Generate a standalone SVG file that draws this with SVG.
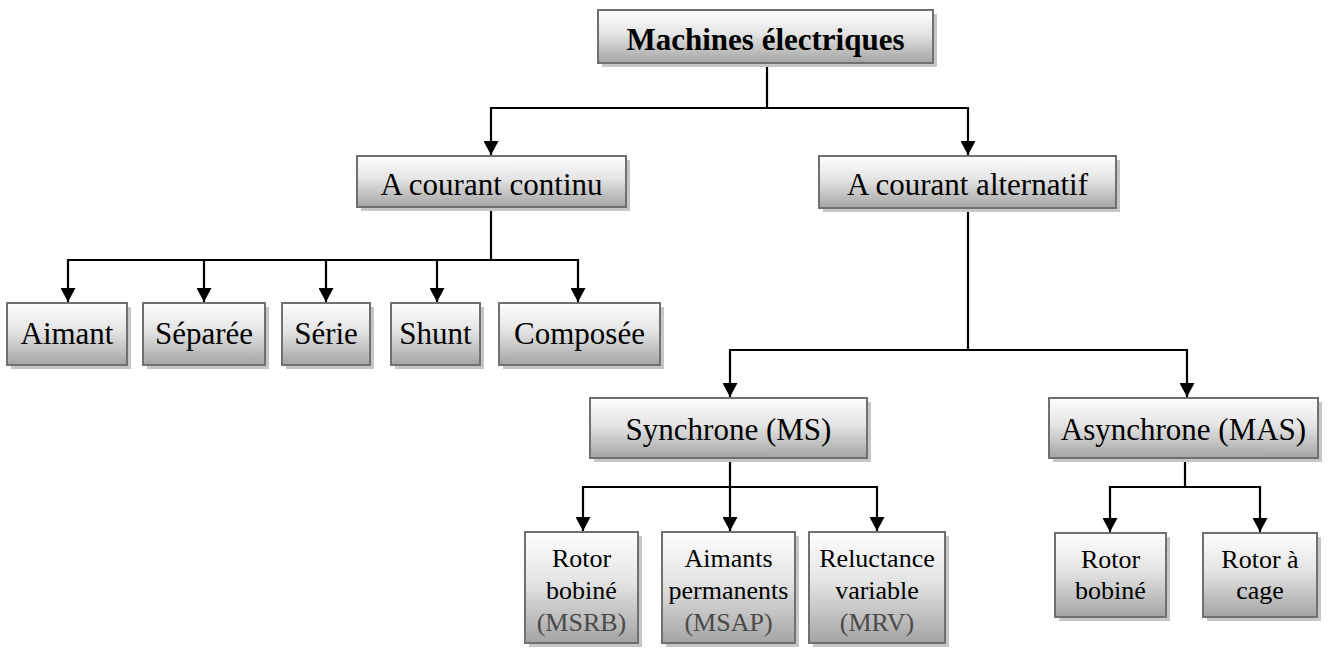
<svg xmlns="http://www.w3.org/2000/svg" width="1330" height="650" viewBox="0 0 1330 650">
<defs>
<linearGradient id="g" x1="0" y1="0" x2="0" y2="1">
<stop offset="0" stop-color="#fefefe"/>
<stop offset="0.45" stop-color="#e4e4e4"/>
<stop offset="1" stop-color="#a4a4a4"/>
</linearGradient>
<marker id="ah" markerUnits="userSpaceOnUse" markerWidth="15" markerHeight="15" refX="14" refY="7.5" orient="auto" viewBox="0 0 15 15">
<path d="M0,0 L14,7.5 L0,15 Z" fill="#000"/>
</marker>
</defs>
<style>
.sh{fill:#c6c6c6;}
.bx{fill:url(#g);stroke:#707070;stroke-width:2;}
.t{font-size:31px;}
.b{font-weight:bold;}
.s{font-size:26px;}
.g{fill:#4a4a4a;}
.c{fill:none;stroke:#000;stroke-width:2.2;}
.a{marker-end:url(#ah);}
</style>
<g id="connectors">
<path class="c" d="M767,63 V108"/>
<path class="c a" d="M767,108 H491 V155"/>
<path class="c a" d="M767,108 H968 V155"/>
<path class="c" d="M491,207 V260"/>
<path class="c a" d="M491,260 H68 V302"/>
<path class="c a" d="M491,260 H578 V302"/>
<path class="c a" d="M204,260 V302"/>
<path class="c a" d="M326,260 V302"/>
<path class="c a" d="M437,260 V302"/>
<path class="c" d="M968,208 V350"/>
<path class="c a" d="M968,350 H730 V397"/>
<path class="c a" d="M968,350 H1187 V397"/>
<path class="c" d="M730,458 V487"/>
<path class="c a" d="M730,487 H583 V531"/>
<path class="c a" d="M730,487 H877 V531"/>
<path class="c a" d="M730,487 V531"/>
<path class="c" d="M1185,458 V487"/>
<path class="c a" d="M1185,487 H1110 V532"/>
<path class="c a" d="M1185,487 H1260 V532"/>
</g>
<g font-family="'Liberation Serif', 'Times New Roman', Times, Tinos, 'Nimbus Roman', 'Noto Serif', 'DejaVu Serif', FreeSerif, serif" text-anchor="middle" fill="#000">
<g id="root">
<rect class="sh" x="602" y="14" width="335" height="53"/>
<rect class="bx" x="598" y="10" width="335" height="53"/>
<text class="t b" x="765.5" y="50">Machines électriques</text>
</g>
<g id="acc">
<rect class="sh" x="361" y="160" width="269" height="51"/>
<rect class="bx" x="357" y="156" width="269" height="51"/>
<text class="t" x="491.5" y="195">A courant continu</text>
</g>
<g id="aca">
<rect class="sh" x="823" y="160" width="297" height="52"/>
<rect class="bx" x="819" y="156" width="297" height="52"/>
<text class="t" x="967.5" y="195">A courant alternatif</text>
</g>
<g id="aimant">
<rect class="sh" x="11" y="307" width="120" height="62"/>
<rect class="bx" x="7" y="303" width="120" height="62"/>
<text class="t" x="67" y="344">Aimant</text>
</g>
<g id="separee">
<rect class="sh" x="147" y="307" width="122" height="62"/>
<rect class="bx" x="143" y="303" width="122" height="62"/>
<text class="t" x="204" y="344">Séparée</text>
</g>
<g id="serie">
<rect class="sh" x="286" y="307" width="88" height="62"/>
<rect class="bx" x="282" y="303" width="88" height="62"/>
<text class="t" x="326" y="344">Série</text>
</g>
<g id="shunt">
<rect class="sh" x="395" y="307" width="89" height="62"/>
<rect class="bx" x="391" y="303" width="89" height="62"/>
<text class="t" x="435.5" y="344">Shunt</text>
</g>
<g id="composee">
<rect class="sh" x="503" y="307" width="161" height="62"/>
<rect class="bx" x="499" y="303" width="161" height="62"/>
<text class="t" x="579.5" y="344">Composée</text>
</g>
<g id="synchrone">
<rect class="sh" x="594" y="402" width="277" height="60"/>
<rect class="bx" x="590" y="398" width="277" height="60"/>
<text class="t" x="728.5" y="440">Synchrone (MS)</text>
</g>
<g id="asynchrone">
<rect class="sh" x="1053" y="402" width="269" height="60"/>
<rect class="bx" x="1049" y="398" width="269" height="60"/>
<text class="t" x="1183.5" y="440">Asynchrone (MAS)</text>
</g>
<g id="msrb">
<rect class="sh" x="529" y="536" width="113" height="111"/>
<rect class="bx" x="525" y="532" width="113" height="111"/>
<text class="s" x="581.5" y="567">Rotor</text>
<text class="s" x="581.5" y="599">bobiné</text>
<text class="s g" x="581.5" y="631">(MSRB)</text>
</g>
<g id="msap">
<rect class="sh" x="666" y="536" width="133" height="111"/>
<rect class="bx" x="662" y="532" width="133" height="111"/>
<text class="s" x="728.5" y="567">Aimants</text>
<text class="s" x="728.5" y="599">permanents</text>
<text class="s g" x="728.5" y="631">(MSAP)</text>
</g>
<g id="mrv">
<rect class="sh" x="813" y="536" width="136" height="111"/>
<rect class="bx" x="809" y="532" width="136" height="111"/>
<text class="s" x="877" y="567">Reluctance</text>
<text class="s" x="877" y="599">variable</text>
<text class="s g" x="877" y="631">(MRV)</text>
</g>
<g id="rotor-bobine">
<rect class="sh" x="1059" y="537" width="111" height="84"/>
<rect class="bx" x="1055" y="533" width="111" height="84"/>
<text class="s" x="1110.5" y="568">Rotor</text>
<text class="s" x="1110.5" y="599">bobiné</text>
</g>
<g id="rotor-cage">
<rect class="sh" x="1207" y="537" width="114" height="84"/>
<rect class="bx" x="1203" y="533" width="114" height="84"/>
<text class="s" x="1260" y="568">Rotor à</text>
<text class="s" x="1260" y="599">cage</text>
</g>
</g>
</svg>
